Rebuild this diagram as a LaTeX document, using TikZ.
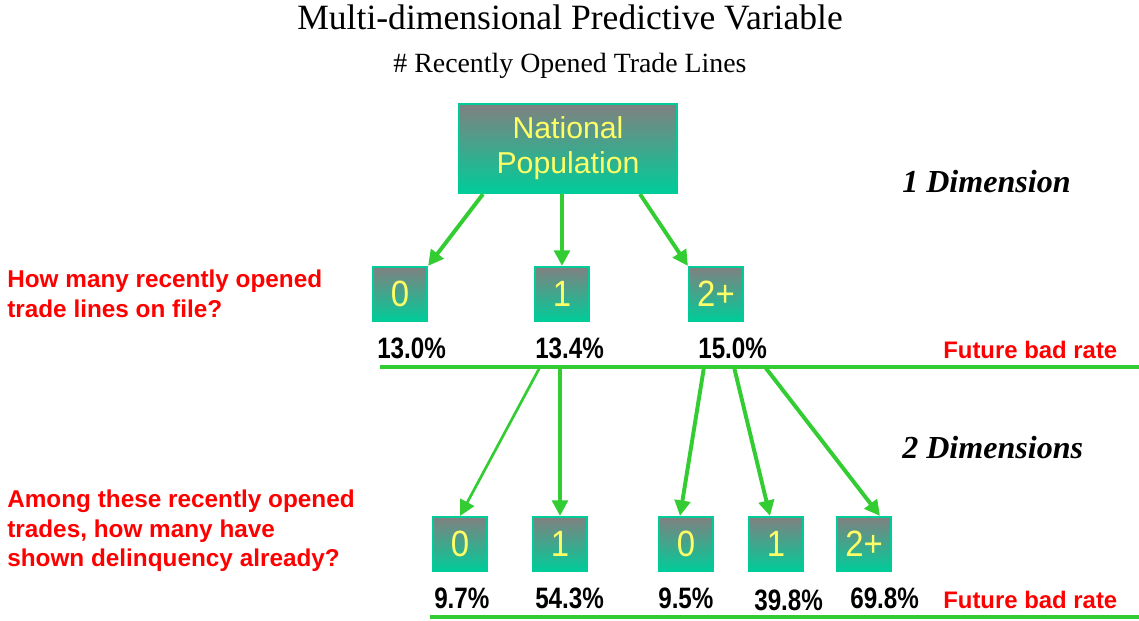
\documentclass[tikz,border=0pt]{standalone}
\usepackage{fontspec}
\setmainfont{Liberation Serif}
\newfontfamily\boxfont{Liberation Sans}
\newfontfamily\digitfont[FakeStretch=0.9]{Liberation Sans}
\newfontfamily\ratefont[FakeStretch=0.82]{Liberation Sans}
\usetikzlibrary{positioning}
\usetikzlibrary{arrows.meta}
\usetikzlibrary{calc}

\definecolor{boxgray}{RGB}{128,128,128}
\definecolor{boxteal}{RGB}{0,204,153}
\definecolor{labelyellow}{RGB}{255,255,102}
\definecolor{linegreen}{RGB}{51,204,51}
\definecolor{askred}{RGB}{255,0,0}

\begin{document}
\begin{tikzpicture}[
  x=0.025cm, y=-0.025cm,
  hub/.style={draw=boxteal, line width=1.5pt, top color=boxgray, bottom color=boxteal, text=labelyellow, align=center, inner sep=0pt, minimum width=5.45cm, minimum height=2.225cm, font=\boxfont\fontsize{21.5}{25}\selectfont},
  box/.style={hub, minimum width=1.35cm, minimum height=1.35cm, font=\digitfont\fontsize{26}{30}\selectfont},
  rate/.style={anchor=base west, inner sep=0pt, font=\ratefont\bfseries\fontsize{21}{24}\selectfont},
  question/.style={anchor=north west, inner sep=0pt, align=left, text=askred, font=\boxfont\bfseries\fontsize{17.3}{20.8}\selectfont},
  badrate/.style={anchor=base west, inner sep=0pt, text=askred, font=\boxfont\bfseries\fontsize{17}{20}\selectfont},
  dimension/.style={anchor=base west, inner sep=0pt, font=\bfseries\itshape\fontsize{22.8}{26}\selectfont},
  arrow/.style={-{Triangle[length=11pt, width=11pt]}, line width=2.8pt, linegreen},
  rule/.style={line width=2.6pt, linegreen}
]
\useasboundingbox (0,0) rectangle (1139,620);

% headings
\node[anchor=base, inner sep=0pt, font=\fontsize{25.3}{30}\selectfont] (title) at (570,29) {Multi-dimensional Predictive Variable};
\node[anchor=base, inner sep=0pt, font=\fontsize{19.8}{23}\selectfont] (subtitle) at (570,72) {\# Recently Opened Trade Lines};

\node[hub] (natpop) at (568,148.5) {National\\Population};

% first split
\node[box] (t0) at (400,294) {0};
\node[box] (t1) at (562,294) {1};
\node[box] (t2) at (716,294) {2+};

\node[dimension] (dim1) at (902,192) {1 Dimension};
\node[question] (ask1) at (7,270) {How many recently opened\\trade lines on file?};

\node[rate] (r0) at (377,358) {13.0\%};
\node[rate] (r1) at (535,358) {13.4\%};
\node[rate] (r2) at (698,358) {15.0\%};
\node[badrate] (bad1) at (943,358) {Future bad rate};
\draw[rule] (380,367) -- (1139,367);

\draw[arrow] ($(natpop.south)+(-85,0)$) -- (t0.north east);
\draw[arrow] (natpop.south -| t1.north) -- (t1.north);
\draw[arrow] ($(natpop.south)+(72,0)$) -- (t2.north west);

% second split
\node[box] (d00) at (460,544) {0};
\node[box] (d01) at (560,544) {1};
\node[box] (d10) at (686,544) {0};
\node[box] (d11) at (776,544) {1};
\node[box] (d12) at (864,544) {2+};

\node[dimension] (dim2) at (902,458) {2 Dimensions};
\node[question] (ask2) at (7,490) {Among these recently opened\\trades, how many have\\shown delinquency already?};

\coordinate (s00) at (540,367);
\coordinate (s01) at (560,367);
\coordinate (s10) at (704,367);
\coordinate (s11) at (734,367);
\coordinate (s12) at (765,367);

\draw[arrow, line width=1.9pt] (s00) -- (d00.north);
\draw[arrow, line width=3.2pt] (s01) -- (d01.north);
\draw[arrow] (s10) -- ($(d10.north)+(-6,0)$);
\draw[arrow] (s11) -- ($(d11.north)+(-6,0)$);
\draw[arrow] (s12) -- ($(d12.north)+(16,0)$);

\node[rate] (q00) at (434,608) {9.7\%};
\node[rate] (q01) at (535,608) {54.3\%};
\node[rate] (q10) at (658,608) {9.5\%};
\node[rate] (q11) at (754,610) {39.8\%};
\node[rate] (q12) at (850,608) {69.8\%};
\node[badrate] (bad2) at (943,608) {Future bad rate};
\draw[rule] (430,617) -- (1139,617);

\end{tikzpicture}
\end{document}
